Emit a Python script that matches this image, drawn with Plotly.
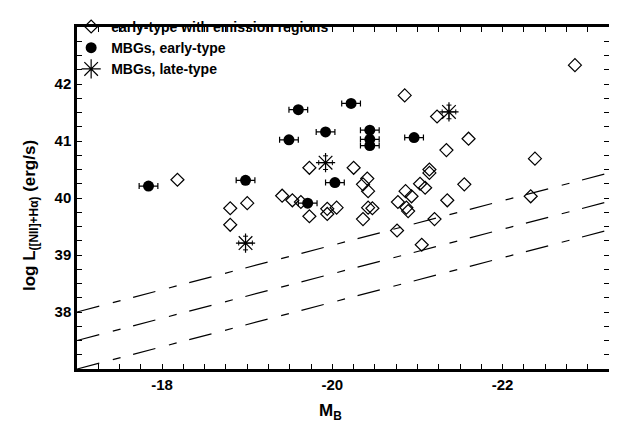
import plotly.graph_objects as go

# early-type galaxies with emission regions (open diamonds)
etg_mb = [-22.85, -18.18, -19.73, -18.80, -19.00, -18.80, -19.41, -19.53, -19.63, -19.73,
          -19.94, -20.05, -19.94, -20.85, -21.23, -21.60, -21.34, -22.38, -20.25, -21.14,
          -21.14, -20.41, -20.36, -20.42, -21.03, -21.09, -21.55, -20.86, -20.93, -20.77,
          -20.87, -20.89, -20.42, -20.47, -20.36, -21.35, -22.33, -21.20, -20.76, -21.05]
etg_logl = [42.33, 40.32, 40.53, 39.82, 39.91, 39.53, 40.04, 39.96, 39.93, 39.68,
            39.81, 39.83, 39.72, 41.80, 41.43, 41.04, 40.84, 40.69, 40.53, 40.50,
            40.44, 40.34, 40.24, 40.12, 40.25, 40.18, 40.24, 40.12, 40.03, 39.93,
            39.83, 39.77, 39.83, 39.82, 39.63, 39.96, 40.03, 39.63, 39.43, 39.18]

# MBGs, early-type (filled circles)
mbg_early_mb = [-17.84, -18.98, -19.60, -19.49, -19.92, -20.22, -20.03, -19.71,
                -20.44, -20.44, -20.44, -20.96]
mbg_early_logl = [40.21, 40.31, 41.55, 41.02, 41.16, 41.66, 40.27, 39.91,
                  41.19, 41.03, 40.92, 41.06]
mbg_early_err = [0.11] * len(mbg_early_mb)

# MBGs, late-type (asterisks)
mbg_late_mb = [-19.92, -18.98, -21.37]
mbg_late_logl = [40.62, 39.21, 41.51]
mbg_late_xerr = [0.08, 0.08, 0.08]
mbg_late_yerr = [0.12, 0.12, 0.12]

# detection-limit lines
limit_mb = [-17.0, -23.25]
limit_upper = [38.0, 40.44]
limit_middle = [37.5, 39.94]
limit_lower = [37.0, 39.44]

x_labels = {-18.0: "-18", -20.0: "-20", -22.0: "-22"}
y_labels = {38.0: "38", 39.0: "39", 40.0: "40", 41.0: "41", 42.0: "42"}
x_tickvals = [-17.25 - 0.25 * i for i in range(24)]
y_tickvals = [37.25 + 0.25 * i for i in range(23)]

FONT = "Liberation Sans, Arial, Helvetica, sans-serif"

fig = go.Figure()

for ys in (limit_upper, limit_middle, limit_lower):
    fig.add_trace(go.Scatter(
        x=limit_mb, y=ys, mode="lines", showlegend=False, hoverinfo="skip",
        line=dict(color="black", width=1.2, dash="23px,14px,8px,13px")))

fig.add_trace(go.Scatter(
    x=etg_mb, y=etg_logl, mode="markers", name="early-type with emission regions",
    marker=dict(symbol="diamond-open", size=10, color="black", line=dict(width=1.2, color="black"))))

fig.add_trace(go.Scatter(
    x=mbg_early_mb, y=mbg_early_logl, mode="markers", name="MBGs, early-type",
    marker=dict(symbol="circle", size=11, color="black"),
    error_x=dict(type="data", array=mbg_early_err, color="black", thickness=1.2, width=3)))

fig.add_trace(go.Scatter(
    x=mbg_late_mb, y=mbg_late_logl, mode="markers", name="MBGs, late-type",
    marker=dict(symbol="asterisk-open", size=16, color="black", line=dict(width=1.2, color="black")),
    error_x=dict(type="data", array=mbg_late_xerr, color="black", thickness=1.0, width=2.5),
    error_y=dict(type="data", array=mbg_late_yerr, color="black", thickness=1.0, width=2.5)))

tickfont = dict(family=FONT, size=15, color="black", weight="bold")
common = dict(showline=True, linewidth=2.5, linecolor="black", mirror="ticks",
              ticks="inside", ticklen=5, tickwidth=1.2, tickcolor="black",
              showgrid=False, zeroline=False, tickfont=tickfont, layer="above traces")

fig.update_xaxes(range=[-17, -23.25], tickmode="array", tickvals=x_tickvals,
                 ticktext=[x_labels.get(round(v, 2), "") for v in x_tickvals], **common)
fig.update_yaxes(range=[37, 43], tickmode="array", tickvals=y_tickvals,
                 ticktext=[y_labels.get(round(v, 2), "") for v in y_tickvals], **common)

fig.add_annotation(
    text="log L<sub>([NII]+Hα)</sub> (erg/s)", xref="paper", yref="paper",
    x=-0.0865, y=0.45, textangle=-90, showarrow=False, xanchor="center", yanchor="middle",
    font=dict(family=FONT, size=17, color="black", weight="bold"))
fig.add_annotation(
    text="M<sub>B</sub>", xref="paper", yref="paper",
    x=0.476, y=-0.125, showarrow=False, xanchor="center", yanchor="middle",
    font=dict(family=FONT, size=17, color="black", weight="bold"))

# the page adds an 8px body margin, so the figure is drawn 8px smaller
fig.update_layout(
    width=609, height=421,
    margin=dict(l=69, r=8, t=3, b=60),
    paper_bgcolor="white", plot_bgcolor="white",
    font=dict(family=FONT, color="black"),
    legend=dict(x=-0.011, y=1.047, xanchor="left", yanchor="top", bgcolor="rgba(0,0,0,0)",
                font=dict(family=FONT, size=14, color="black", weight="bold"),
                tracegroupgap=0, itemwidth=30),
)

fig.write_html("out.html")
